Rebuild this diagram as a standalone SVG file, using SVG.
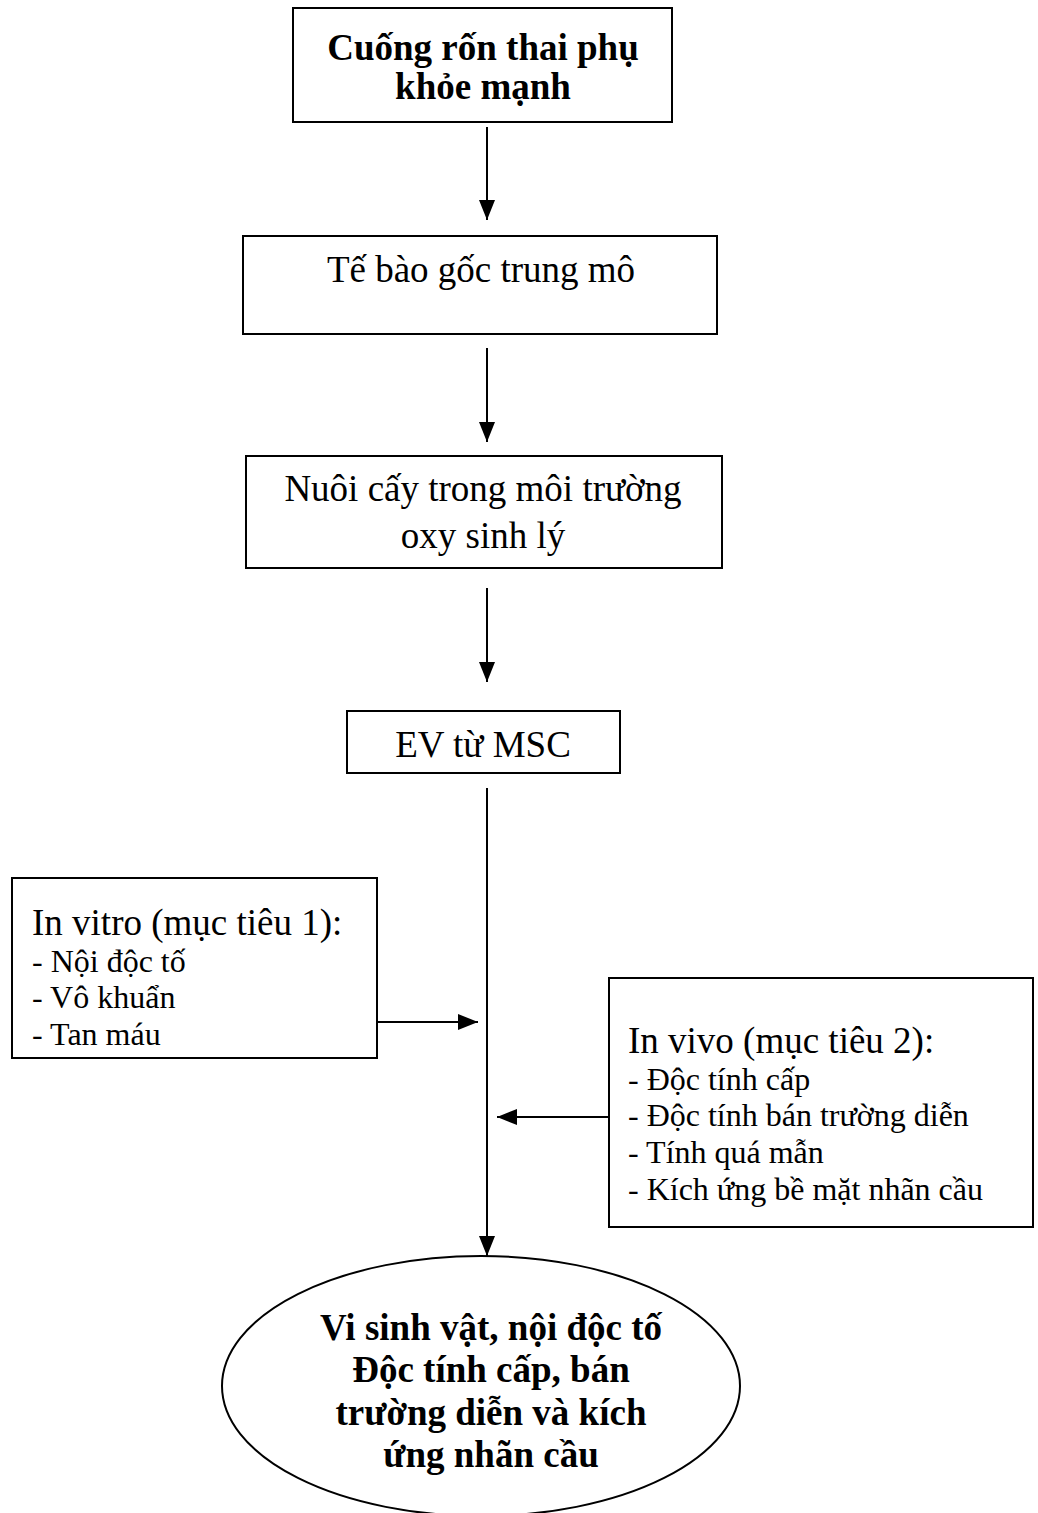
<svg xmlns="http://www.w3.org/2000/svg" width="1038" height="1513" viewBox="0 0 1038 1513">
<style>
.box{fill:#fff;stroke:#000;stroke-width:2}
.t{font-family:"Liberation Serif","Times New Roman",serif;font-size:37px;fill:#000}
.b{font-weight:bold}
.c{text-anchor:middle}
.s{font-size:32px}
.con{stroke:#000;stroke-width:2;fill:none}
</style>
<defs>
<marker id="ah" markerUnits="userSpaceOnUse" markerWidth="20" markerHeight="16" refX="20" refY="8" orient="auto">
<path d="M0,0 L20,8 L0,16 z" fill="#000"/>
</marker>
</defs>
<rect width="1038" height="1513" fill="#fff"/>
<g id="connectors">
<line class="con" x1="487" y1="127" x2="487" y2="220" marker-end="url(#ah)"/>
<line class="con" x1="487" y1="348" x2="487" y2="442" marker-end="url(#ah)"/>
<line class="con" x1="487" y1="588" x2="487" y2="682" marker-end="url(#ah)"/>
<line class="con" x1="487" y1="788" x2="487" y2="1256" marker-end="url(#ah)"/>
<line class="con" x1="377" y1="1022" x2="478" y2="1022" marker-end="url(#ah)"/>
<line class="con" x1="609" y1="1117" x2="497" y2="1117" marker-end="url(#ah)"/>
</g>
<g id="n1">
<rect class="box" x="293" y="8" width="379" height="114"/>
<text class="t b c" x="483" y="60">Cuống rốn thai phụ</text>
<text class="t b c" x="483" y="99">khỏe mạnh</text>
</g>
<g id="n2">
<rect class="box" x="243" y="236" width="474" height="98"/>
<text class="t c" x="481" y="282">Tế bào gốc trung mô</text>
</g>
<g id="n3">
<rect class="box" x="246" y="456" width="476" height="112"/>
<text class="t c" x="483" y="501">Nuôi cấy trong môi trường</text>
<text class="t c" x="483" y="548">oxy sinh lý</text>
</g>
<g id="n4">
<rect class="box" x="347" y="711" width="273" height="62"/>
<text class="t c" x="483" y="757">EV từ MSC</text>
</g>
<g id="invitro">
<rect class="box" x="12" y="878" width="365" height="180"/>
<text class="t" x="32" y="935">In vitro (mục tiêu 1):</text>
<text class="t s" x="32" y="972">- Nội độc tố</text>
<text class="t s" x="32" y="1008">- Vô khuẩn</text>
<text class="t s" x="32" y="1045">- Tan máu</text>
</g>
<g id="invivo">
<rect class="box" x="609" y="978" width="424" height="249"/>
<text class="t" x="628" y="1053">In vivo (mục tiêu 2):</text>
<text class="t s" x="628" y="1090">- Độc tính cấp</text>
<text class="t s" x="628" y="1126">- Độc tính bán trường diễn</text>
<text class="t s" x="628" y="1163">- Tính quá mẫn</text>
<text class="t s" x="628" y="1200">- Kích ứng bề mặt nhãn cầu</text>
</g>
<g id="result">
<ellipse class="box" cx="481" cy="1386" rx="259" ry="130"/>
<text class="t b c" x="491" y="1340">Vi sinh vật, nội độc tố</text>
<text class="t b c" x="491" y="1382">Độc tính cấp, bán</text>
<text class="t b c" x="491" y="1425">trường diễn và kích</text>
<text class="t b c" x="491" y="1467">ứng nhãn cầu</text>
</g>
</svg>
